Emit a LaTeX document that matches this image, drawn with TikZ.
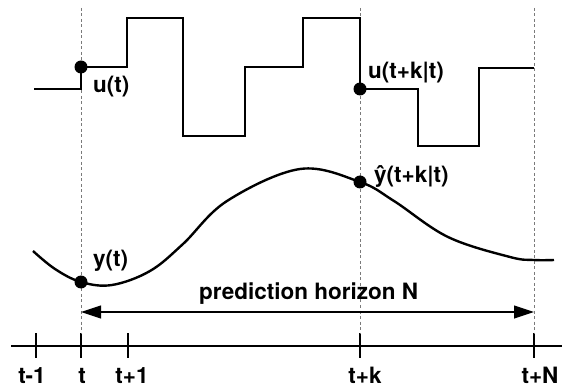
\documentclass[tikz,border=0pt]{standalone}
\usepackage{fontspec}
\setmainfont{TeX Gyre Heros}
\usepackage{tikz}
\usetikzlibrary{arrows.meta,positioning}
\definecolor{MpcDark}{HTML}{000000}
\definecolor{MpcGrid}{HTML}{7A7A7A}

\begin{document}
\begin{tikzpicture}[x=1pt,y=-1pt,
  lbl/.style={anchor=base west,inner sep=0pt,font=\fontsize{22.5}{26}\selectfont\bfseries},
  ticklbl/.style={anchor=base,inner sep=0pt,font=\fontsize{22.5}{26}\selectfont\bfseries},
  guide/.style={MpcGrid,line width=0.9pt,dash pattern=on 3pt off 2.5pt},
  dot/.style={circle,fill=MpcDark,inner sep=0pt,minimum size=13pt}]
\useasboundingbox (0,0) rectangle (562,387);
% time axis and ticks
\draw[MpcDark,line width=2.4pt] (11,346)--(562,346);
\foreach \x/\name in {36/tm,81/t0,128/tp,360/tk,534/tn}
  \draw[MpcDark,line width=2.4pt] (\x,333) coordinate (\name top) -- (\x,358) coordinate (\name);
\node[ticklbl] (ltm) at (32,383) {t-1};
\node[ticklbl] (lt0) at (82,383) {t};
\node[ticklbl] (ltp) at (132,383) {t+1};
\node[ticklbl] (ltk) at (365,383) {t+k};
\node[ticklbl] (ltn) at (540,383) {t+N};
% vertical guides
\coordinate (g0) at (81,8);
\coordinate (gk) at (360,8);
\coordinate (gn) at (534,8);
\draw[guide] (g0)--(t0top);
\draw[guide] (gk)--(tktop);
\draw[guide] (gn)--(tntop);
% input sequence
\draw[MpcDark,line width=2.4pt] (34,89)--(81,89)--(81,67)--(127,67)--(127,18)--(183,18)--(183,136)--(245,136)--(245,67)--(303,67)--(303,18)--(360,18)--(360,89)--(418,89)--(418,146)--(479,146)--(479,68)--(534,68);
\node[dot] (ut) at (81,67) {};
\node[dot] (utk) at (360,89) {};
\node[lbl] (lut) at (93,93) {u(t)};
\node[lbl] (lutk) at (368,79) {u(t+k|t)};
% output trajectory
\draw[MpcDark,line width=2.4pt] plot[smooth,tension=0.6] coordinates {(33,251) (55,269) (81,282) (112,285) (150,271) (183,244) (227,201) (300,169) (360,182) (394,201) (448,237) (510,257) (534,260) (554,260)};
\node[dot] (yt) at (81,282) {};
\node[dot] (ytk) at (360,182) {};
\node[lbl] (lyt) at (93,267) {y(t)};
\node[lbl] (lytk) at (374,183) {ŷ(t+k|t)};
% prediction horizon
\coordinate (h0) at (81,312);
\coordinate (hn) at (534,312);
\draw[MpcDark,line width=1.2pt,{Triangle[length=20pt,width=13pt]}-{Triangle[length=20pt,width=13pt]}] (h0)--(hn);
\node[lbl] (lhor) at (199,300) {prediction horizon N};
\end{tikzpicture}
\end{document}
